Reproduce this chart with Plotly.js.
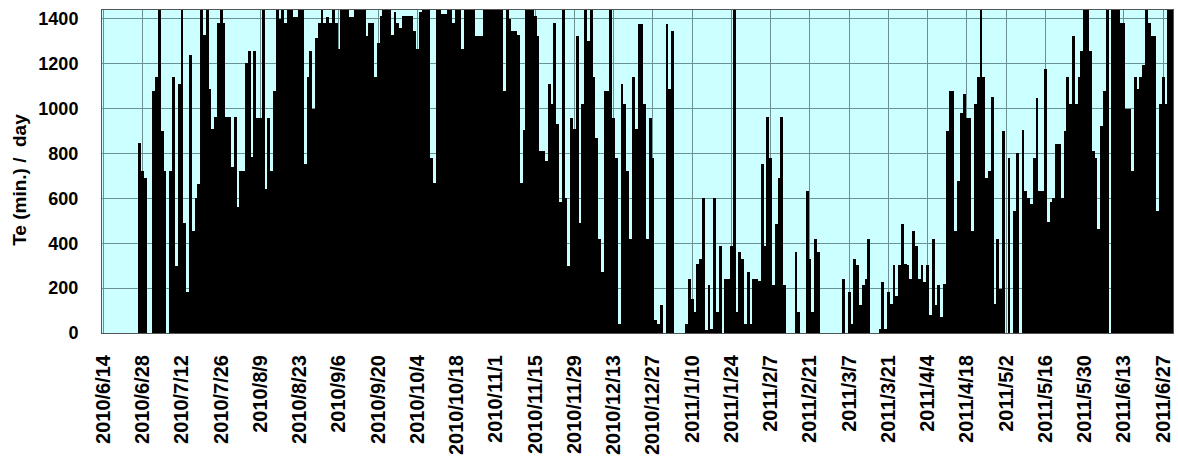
<!DOCTYPE html>
<html>
<head>
<meta charset="utf-8">
<script src="https://cdn.plot.ly/plotly-3.0.1.min.js"></script>
<style>html,body{margin:0;padding:0;background:#fff;}#chart{width:1178px;height:458px;}</style>
</head>
<body>
<div id="chart"></div>
<script>
// Daily Te (minutes per day), one value per day starting 2010/6/14
var startDate = '2010-06-14';
var teMinutes = [
  0,0,0,0,0,0,0,0,0,0,
  0,0,0,849,723,693,0,0,1081,1141,
  1440,900,723,0,723,1141,300,1110,1440,490,
  182,1240,456,604,664,1440,1330,1440,1086,908,
  963,1380,1440,1380,963,963,740,963,560,723,
  723,1204,1259,785,1259,960,960,1440,641,960,
  723,1081,1440,1400,1440,1380,1440,1440,1410,1410,
  1440,1440,752,1141,1259,997,1315,1380,1440,1380,
  1410,1380,1440,1380,1264,1440,1440,1440,1410,1410,
  1440,1440,1440,1440,1322,1380,1380,1141,1293,1412,
  1440,1440,1440,1330,1430,1380,1360,1412,1412,1412,
  1412,1345,1264,1430,1440,1440,1440,782,667,1440,
  1440,1420,1420,1440,1440,1380,1440,1440,1264,1440,
  1440,1440,1440,1322,1322,1322,1440,1440,1440,1440,
  1440,1440,1440,1081,1440,1400,1345,1345,1330,667,
  904,1440,1440,1440,1412,1322,812,812,767,1111,
  1019,1380,930,582,1440,604,300,960,908,1322,
  489,1019,1440,1300,1440,1141,871,419,271,1081,
  1081,1440,960,782,41,1108,1019,723,419,1141,
  908,1378,1378,1019,419,960,782,56,41,123,
  0,1378,1086,1348,0,0,0,0,41,241,
  153,93,308,330,604,12,212,20,604,93,
  390,0,241,241,390,1440,93,360,330,41,
  271,41,241,241,230,752,390,963,782,212,
  486,693,963,212,0,0,0,360,93,0,
  0,634,330,93,419,360,0,0,0,0,
  0,0,0,0,241,0,182,41,330,301,
  123,212,241,419,0,0,0,19,227,19,
  182,130,301,167,301,486,308,301,241,456,
  390,241,301,227,301,79,419,123,212,71,
  219,900,1081,1081,456,678,982,1064,960,960,
  456,1019,1141,1440,1141,693,723,1052,130,419,
  197,900,0,782,0,545,804,0,904,634,
  604,575,782,1049,634,634,1175,493,582,604,
  841,841,604,900,1141,1019,1322,1019,1141,1256,
  1440,1440,1256,812,782,463,923,1081,1440,0,
  1440,1440,1440,1380,1380,997,997,723,1141,1086,
  1141,1197,1440,1380,1322,1322,545,1019,1141,1019,
  1440,1440
];
var tickDates = ['2010-06-14','2010-06-28','2010-07-12','2010-07-26','2010-08-09','2010-08-23','2010-09-06','2010-09-20','2010-10-04','2010-10-18','2010-11-01','2010-11-15','2010-11-29','2010-12-13','2010-12-27','2011-01-10','2011-01-24','2011-02-07','2011-02-21','2011-03-07','2011-03-21','2011-04-04','2011-04-18','2011-05-02','2011-05-16','2011-05-30','2011-06-13','2011-06-27'];
var tickLabels = ['2010/6/14','2010/6/28','2010/7/12','2010/7/26','2010/8/9','2010/8/23','2010/9/6','2010/9/20','2010/10/4','2010/10/18','2010/11/1','2010/11/15','2010/11/29','2010/12/13','2010/12/27','2011/1/10','2011/1/24','2011/2/7','2011/2/21','2011/3/7','2011/3/21','2011/4/4','2011/4/18','2011/5/2','2011/5/16','2011/5/30','2011/6/13','2011/6/27'];
var yTicks = [0,200,400,600,800,1000,1200,1400];
var yTitle = 'Te (min.) /\u00a0\u00a0day';

// build the date category for each daily value
var days = [];
var t0 = Date.parse(startDate + 'T00:00:00Z');
for (var i = 0; i < teMinutes.length; i++) {
  days.push(new Date(t0 + i*86400000).toISOString().slice(0,10));
}

var fam = 'Liberation Sans, Arial, sans-serif';

Plotly.newPlot('chart', [{
  type: 'bar', x: days, y: teMinutes,
  marker: {color: '#000000', line: {width: 0}},
  hoverinfo: 'x+y'
}], {
  width: 1178, height: 458,
  margin: {l: 102, r: 5, t: 10, b: 125},
  paper_bgcolor: '#ffffff', plot_bgcolor: '#ccffff',
  bargap: 0, showlegend: false,
  xaxis: {
    type: 'date', range: ['2010-06-13 12:00', '2011-06-30 12:00'],
    tickmode: 'array', tickvals: tickDates, ticktext: tickLabels,
    tickangle: -90, tickfont: {family: fam, size: 20, color: '#000', weight: 'bold'},
    ticks: '', ticklabelstandoff: 13,
    showgrid: true, gridcolor: '#6a9292', gridwidth: 1,
    showline: true, linecolor: '#555', linewidth: 1, mirror: true, zeroline: false
  },
  yaxis: {
    range: [0, 1440], tickmode: 'array', tickvals: yTicks,
    tickfont: {family: fam, size: 18, color: '#000', weight: 'bold'},
    ticks: '', ticklabelstandoff: 19,
    showgrid: true, gridcolor: '#6a9292', gridwidth: 1,
    showline: true, linecolor: '#555', linewidth: 1, mirror: true, zeroline: false
  },
  annotations: [{
    text: yTitle, textangle: -90, showarrow: false,
    xref: 'paper', yref: 'paper', x: -0.0766, y: 0.474,
    xanchor: 'center', yanchor: 'middle',
    font: {family: fam, size: 19, color: '#000', weight: 'bold'}
  }]
}, {displayModeBar: false, staticPlot: true});
</script>
</body>
</html>
